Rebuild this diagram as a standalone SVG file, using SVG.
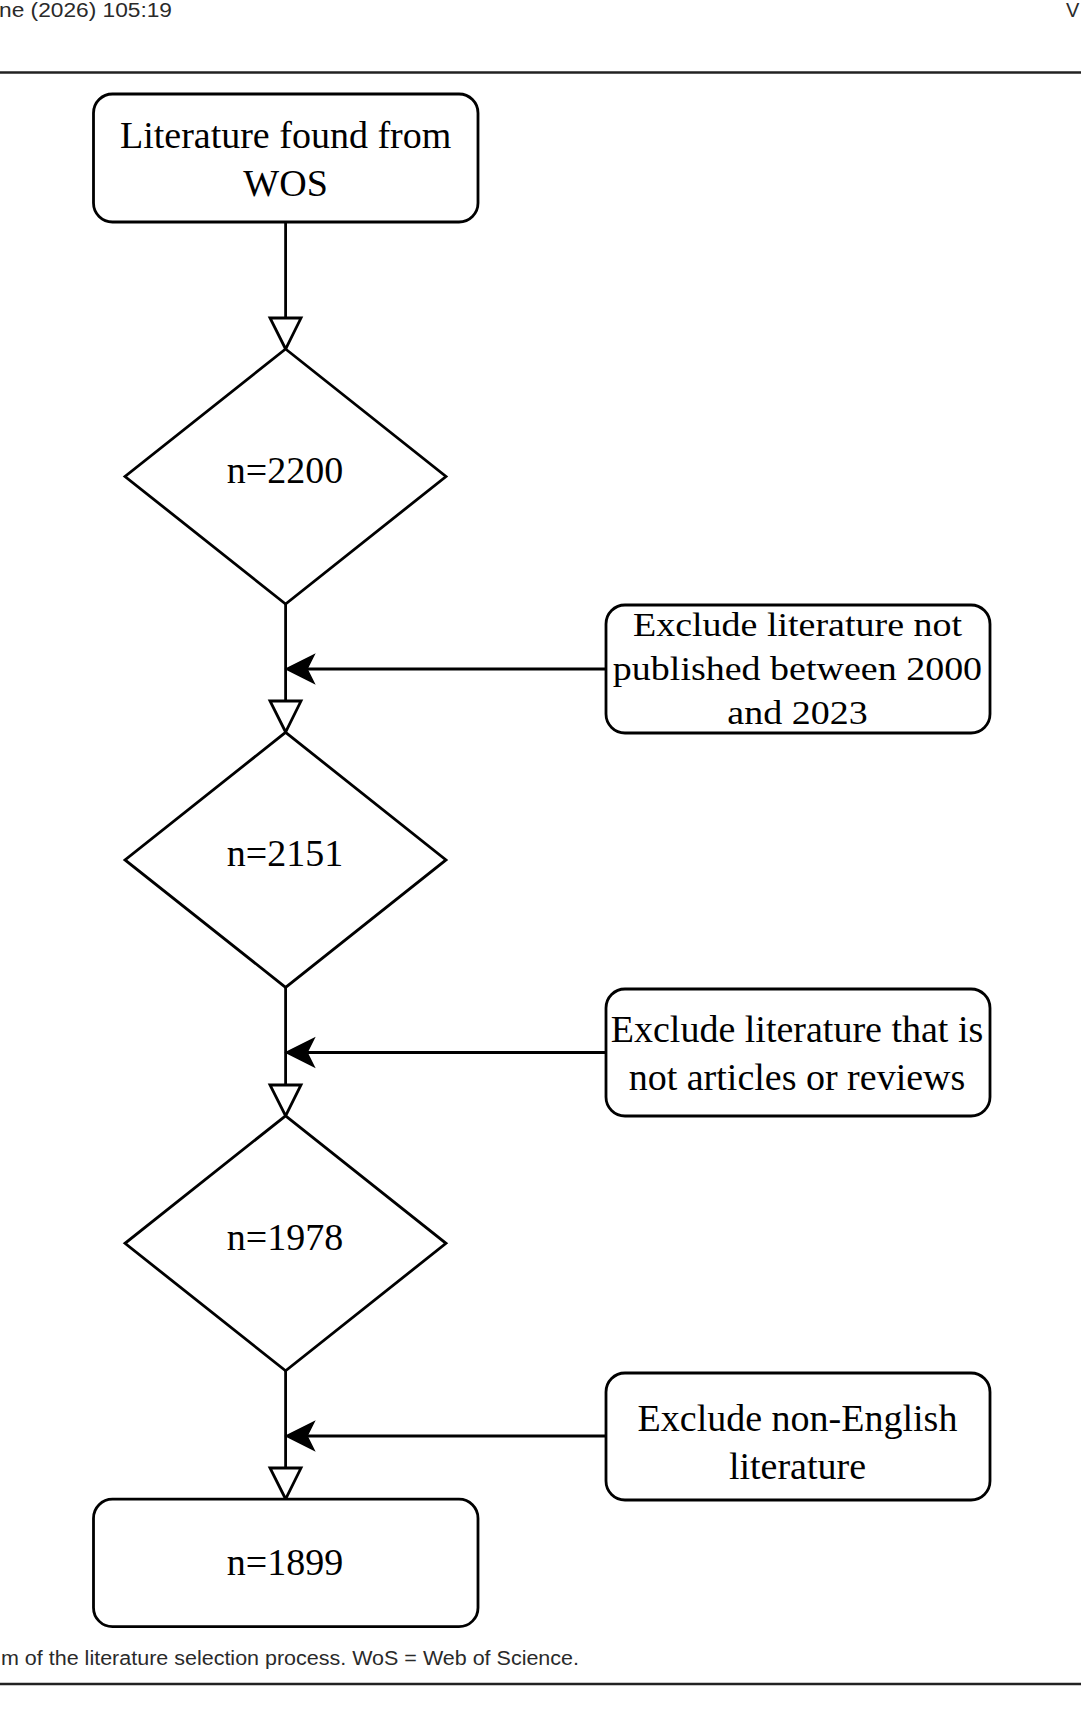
<svg xmlns="http://www.w3.org/2000/svg" width="1081" height="1722" viewBox="0 0 1081 1722">
<style>
.node{fill:#fff;stroke:#000;stroke-width:2.8}
.lbl{font-family:"Liberation Serif","Times New Roman",serif;font-size:38px;fill:#000;text-anchor:middle}
.edge{stroke:#000;stroke-width:2.8;fill:none}
.page{font-family:"Liberation Sans",Arial,sans-serif;font-size:20px;fill:#2a2a2a}
.rule{stroke:#222;stroke-width:2.6}
</style>
<rect width="1081" height="1722" fill="#fff"/>
<text class="page" x="-1" y="17" textLength="173" lengthAdjust="spacingAndGlyphs">ne (2026) 105:19</text>
<text class="page" x="1066" y="17">V</text>
<line class="rule" x1="0" y1="72.5" x2="1081" y2="72.5"/>
<line class="rule" x1="0" y1="1684" x2="1081" y2="1684"/>
<text class="page" x="1" y="1665" textLength="578" lengthAdjust="spacingAndGlyphs">m of the literature selection process. WoS = Web of Science.</text>

<g id="connectors">
<line class="edge" x1="285.6" y1="222" x2="285.6" y2="318"/>
<polygon class="edge" points="270,318 301,318 285.6,349" />
<line class="edge" x1="285.6" y1="604" x2="285.6" y2="701"/>
<polygon class="edge" points="270,701 301,701 285.6,732" />
<line class="edge" x1="285.6" y1="987.4" x2="285.6" y2="1085"/>
<polygon class="edge" points="270,1085 301,1085 285.6,1115.8" />
<line class="edge" x1="285.6" y1="1370.8" x2="285.6" y2="1468"/>
<polygon class="edge" points="270,1468 301,1468 285.6,1499" />
<line class="edge" x1="606" y1="669" x2="300" y2="669"/>
<polygon points="286,669 314,655 307,669 314,683" fill="#000" stroke="#000" stroke-width="1.5"/>
<line class="edge" x1="606" y1="1052.5" x2="300" y2="1052.5"/>
<polygon points="286,1052.5 314,1038.5 307,1052.5 314,1066.5" fill="#000" stroke="#000" stroke-width="1.5"/>
<line class="edge" x1="606" y1="1436" x2="300" y2="1436"/>
<polygon points="286,1436 314,1422 307,1436 314,1450" fill="#000" stroke="#000" stroke-width="1.5"/>
</g>

<g id="start">
<rect class="node" x="93.5" y="94" width="384.5" height="128" rx="19"/>
<text class="lbl" x="285.6" y="148">Literature found from</text>
<text class="lbl" x="285.6" y="196">WOS</text>
</g>
<g id="d1">
<polygon class="node" points="285.6,349 446,476.5 285.6,604 125,476.5"/>
<text class="lbl" x="285" y="483">n=2200</text>
</g>
<g id="d2">
<polygon class="node" points="285.6,732.4 446,859.9 285.6,987.4 125,859.9"/>
<text class="lbl" x="285" y="866.4">n=2151</text>
</g>
<g id="d3">
<polygon class="node" points="285.6,1115.8 446,1243.3 285.6,1370.8 125,1243.3"/>
<text class="lbl" x="285" y="1249.8">n=1978</text>
</g>
<g id="end">
<rect class="node" x="93.5" y="1499.2" width="384.5" height="127.5" rx="19"/>
<text class="lbl" x="285" y="1575">n=1899</text>
</g>
<g id="ex1">
<rect class="node" x="606" y="605" width="384" height="128" rx="19"/>
<g transform="matrix(1 0 0 0.88 0 0)">
<text class="lbl" x="797.5" y="722.7">Exclude literature not</text>
<text class="lbl" x="797.5" y="772.7">published between 2000</text>
<text class="lbl" x="797.5" y="822.7">and 2023</text>
</g>
</g>
<g id="ex2">
<rect class="node" x="606" y="989" width="384" height="127" rx="19"/>
<text class="lbl" x="797" y="1042">Exclude literature that is</text>
<text class="lbl" x="797" y="1090">not articles or reviews</text>
</g>
<g id="ex3">
<rect class="node" x="606" y="1373" width="384" height="127" rx="19"/>
<text class="lbl" x="797.5" y="1431">Exclude non-English</text>
<text class="lbl" x="797.5" y="1479">literature</text>
</g>
</svg>
